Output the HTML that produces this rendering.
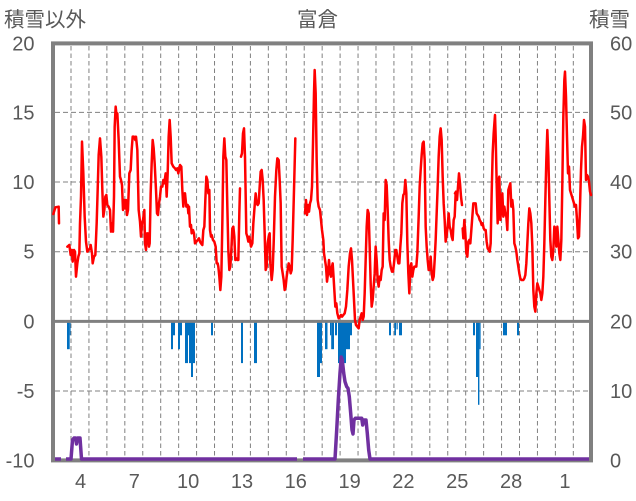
<!DOCTYPE html>
<html><head><meta charset="utf-8"><style>
html,body{margin:0;padding:0;background:#fff;}
svg{display:block;}
text{font-family:"Liberation Sans","Noto Sans CJK JP",sans-serif;fill:#595959;}
.cjk{font-family:"Noto Sans CJK JP","Liberation Sans",sans-serif;}
</style></head><body>
<svg width="636" height="501" viewBox="0 0 636 501" xmlns="http://www.w3.org/2000/svg">
<rect width="636" height="501" fill="#fff"/>
<!-- titles -->
<text class="cjk" x="4" y="26.5" font-size="20.5">積雪以外</text>
<text class="cjk" x="317.5" y="26.5" font-size="20.5" text-anchor="middle">富倉</text>
<text class="cjk" x="589" y="26.5" font-size="20.5">積雪</text>
<!-- horizontal dashed grid -->
<g stroke="#808080" stroke-width="1" stroke-dasharray="5,3" fill="none">
<line x1="55" y1="112.4" x2="589" y2="112.4"/>
<line x1="55" y1="182" x2="589" y2="182"/>
<line x1="55" y1="251.7" x2="589" y2="251.7"/>
<line x1="55" y1="391" x2="589" y2="391"/>
</g>
<!-- vertical dashed grid -->
<g stroke="#808080" stroke-width="1" stroke-dasharray="4.5,3" fill="none" id="vg">
<line x1="71" y1="46" x2="71" y2="458"/><line x1="88.94" y1="46" x2="88.94" y2="458"/><line x1="106.88" y1="46" x2="106.88" y2="458"/><line x1="124.82" y1="46" x2="124.82" y2="458"/><line x1="142.76" y1="46" x2="142.76" y2="458"/><line x1="160.7" y1="46" x2="160.7" y2="458"/><line x1="178.64" y1="46" x2="178.64" y2="458"/><line x1="196.58" y1="46" x2="196.58" y2="458"/><line x1="214.52" y1="46" x2="214.52" y2="458"/><line x1="232.46" y1="46" x2="232.46" y2="458"/><line x1="250.4" y1="46" x2="250.4" y2="458"/><line x1="268.34" y1="46" x2="268.34" y2="458"/><line x1="286.28" y1="46" x2="286.28" y2="458"/><line x1="304.22" y1="46" x2="304.22" y2="458"/><line x1="322.16" y1="46" x2="322.16" y2="458"/><line x1="340.1" y1="46" x2="340.1" y2="458"/><line x1="358.04" y1="46" x2="358.04" y2="458"/><line x1="375.98" y1="46" x2="375.98" y2="458"/><line x1="393.92" y1="46" x2="393.92" y2="458"/><line x1="411.86" y1="46" x2="411.86" y2="458"/><line x1="429.8" y1="46" x2="429.8" y2="458"/><line x1="447.74" y1="46" x2="447.74" y2="458"/><line x1="465.68" y1="46" x2="465.68" y2="458"/><line x1="483.62" y1="46" x2="483.62" y2="458"/><line x1="501.56" y1="46" x2="501.56" y2="458"/><line x1="519.5" y1="46" x2="519.5" y2="458"/><line x1="537.44" y1="46" x2="537.44" y2="458"/><line x1="555.38" y1="46" x2="555.38" y2="458"/><line x1="573.32" y1="46" x2="573.32" y2="458"/>
</g>
<!-- blue bars -->
<g fill="#0070C0">
<rect x="67" y="321.4" width="2.7" height="27.8"/><rect x="69.7" y="321.4" width="0.9" height="13.9"/>
<rect x="171" y="321.4" width="2" height="27.8"/><rect x="173" y="321.4" width="2" height="13.9"/>
<rect x="178" y="321.4" width="2" height="27.8"/><rect x="180" y="321.4" width="2" height="13.9"/>
<rect x="185" y="321.4" width="3" height="41.7"/><rect x="188" y="321.4" width="1" height="13.9"/><rect x="189" y="321.4" width="2" height="41.7"/><rect x="191" y="321.4" width="2" height="55.6"/><rect x="193" y="321.4" width="2" height="41.7"/>
<rect x="211" y="321.4" width="2" height="13.9"/>
<rect x="241" y="321.4" width="2" height="41.7"/>
<rect x="254" y="321.4" width="3" height="41.7"/>
<rect x="317" y="321.4" width="3" height="55.6"/><rect x="320" y="321.4" width="2" height="41.7"/>
<rect x="325" y="321.4" width="2.5" height="27.8"/>
<rect x="330" y="321.4" width="1.2" height="13.9"/><rect x="331.2" y="321.4" width="2.8" height="27.8"/>
<rect x="335" y="321.4" width="2" height="13.9"/>
<rect x="338" y="321.4" width="8" height="41.7"/><rect x="346" y="321.4" width="4" height="27.8"/><rect x="350" y="321.4" width="2" height="13.9"/>
<rect x="389" y="321.4" width="2" height="13.9"/>
<rect x="394.3" y="321.4" width="1.7" height="13.9"/><rect x="396.5" y="321.4" width="1.2" height="8"/>
<rect x="399" y="321.4" width="3" height="13.9"/>
<rect x="473" y="321.4" width="2" height="13.9"/>
<rect x="476" y="321.4" width="2" height="55.6"/><rect x="478" y="321.4" width="1.4" height="83.4"/><rect x="479.4" y="321.4" width="1.2" height="27.8"/>
<rect x="503" y="321.4" width="4" height="13.9"/>
<rect x="517" y="321.4" width="2" height="13.9"/>
</g>
<!-- plot border -->
<rect x="53" y="43.4" width="538" height="417" fill="none" stroke="#808080" stroke-width="4"/>
<!-- zero line -->
<line x1="53" y1="321.4" x2="591" y2="321.4" stroke="#808080" stroke-width="3"/>
<!-- red line -->
<g fill="none" stroke="#FF0000" stroke-width="7.5" stroke-linejoin="round" stroke-linecap="round">
<g transform="translate(50,90) scale(0.33333)">
<polyline points="10,372 16,352 26,350 27,400"/>
<polyline points="52,470 58,465 62,495 66,480 68,515 72,480 75,485 78,560 82,520 85,500 88,490 90,400 93,320 96,155 100,250 104,380 108,455 112,485 116,480 120,475 122,465 126,490 128,520 132,500 136,495 140,400 143,300 146,195 150,145 154,200 157,300 160,380 163,360 166,320 169,315 172,345 176,350 180,360 183,425 186,400 189,425 192,320 194,110 197,50 200,80 202,70 206,150 210,260 213,270 216,285 219,360 222,330 225,355 228,330 231,375 234,360 238,250 242,240 245,180 248,140 252,140 256,150 258,140 262,180 264,270 266,360 270,395 273,440 276,400 279,390 283,360 285,460 288,480 291,430 294,430 297,470 299,460 302,310 305,220 308,150 311,175 314,220 318,300 321,370 324,375 327,340 330,320 333,290 337,290 340,270 343,280 347,250 350,320 353,250 356,140 359,90 362,140 365,220 370,230 375,235 378,240 382,235 385,250 390,225 394,230 397,300 400,350 404,310"/>
</g>
<g transform="translate(185,90) scale(0.33333)">
<polyline points="0,310 4,350 8,345 10,370 12,350 15,410 18,405 20,430 24,420 27,430 30,460 34,455 38,450 42,445 45,455 48,460 52,465 55,420 58,410 61,330 64,260 67,270 70,310 73,300 75,420 78,440 80,435 84,450 88,455 92,470 95,520 98,520 100,530 103,560 106,600 109,560 112,400 115,200 118,145 121,200 124,210 127,350 130,480 133,540 136,530 139,480 142,415 145,410 148,440 151,510 154,505 157,510 160,510 163,370 165,295"/>
<polyline points="168,200 171,190 174,130 177,115 180,200 184,430 187,440 190,455 193,440 198,470 202,460 205,400 208,360 212,310 215,340 218,345 221,340 224,290 227,245 230,240 233,270 236,330 239,430 242,540 245,530 248,460 251,440 254,430 256,520 260,570 263,540 266,460 270,320 274,240 277,205 281,210 284,270 287,340 290,530 293,550 296,570 299,600 302,590 305,560 308,540 311,520 314,530 317,550 320,540 323,450 327,300 331,145"/>
</g>
<g transform="translate(300,60) scale(0.33333)">
<polyline points="15,460 18,420 21,465 24,435 27,455 30,430 33,420 36,380 39,250 42,100 44,30 47,100 50,300 53,420 56,440 60,450 63,480 66,510 70,540 72,580 75,600 78,620 81,665 84,640 87,600 90,640 93,650 96,620 98,610 100,640 103,690 106,740 109,730 112,760 116,775 120,770 123,765 126,770 130,765 134,760 138,740 142,690 146,620 150,580 153,565 156,600 159,660 162,720 165,780 168,795 172,800 176,805 179,780 182,770 185,760 188,780 191,770 194,700 197,600 200,500 203,450 206,460 209,560 212,670 215,740 218,720 221,680 224,640 227,560 230,600 233,660 236,680 239,650 242,660 245,630 248,620 251,460 254,480 257,360 260,375 263,450 266,540 269,600 272,620 276,635 279,635 282,610 286,570 289,570 292,590 295,610 298,610 301,560 304,520 307,430 310,405 313,400 316,360 319,400 322,550 325,640 328,700 331,620 334,610 337,650 340,630 343,620 346,620 349,620 352,580 356,470 359,380 362,330 365,285 368,250 371,245 374,300 377,500 380,560 383,600 386,630 389,630 392,590 395,640 398,660 401,650 404,600 407,540 410,460 413,380 416,290 419,230 422,205 425,240 428,350 431,430 434,480 437,545 440,525 443,500 446,460 449,500 452,510 455,530 458,540 461,480 464,470 467,400"/>
</g>
<g transform="translate(455,60) scale(0.33333)">
<polyline points="0,400 3,395 6,420 9,380 12,340 15,370 18,410 21,435"/>
<polyline points="23,505 25,535 28,480 31,520 34,580 37,590 40,545 43,540 46,550 49,510 52,470 55,430 58,430 62,430 65,460 68,465 71,470 74,480 77,485 80,495 83,490 86,505 89,510 92,510 95,545 98,565 101,570 104,575 107,550 110,400 113,280 116,220 120,165 122,230 125,370 128,490 131,360 133,350 136,480 139,440 142,400 145,470 148,440 151,460 154,470 157,510 160,390 163,380 166,370 169,440 172,420 175,450 178,550 181,560 184,575 187,600 190,620 193,640 196,655 199,660 202,660 205,660 208,655 211,645 214,610 217,550 220,490 223,445 226,460 229,490 232,560 235,690 238,740 241,755 244,700 247,670 250,680 253,690 256,700 259,720 262,700 265,650 268,550 271,420 274,300 277,210 280,290 283,420 286,540 289,590 292,600 295,570 298,500 301,510 304,560 307,500 310,540 313,580 316,600 319,540 322,370 325,170 328,60 330,35 333,110 336,230 339,340 342,320 345,390 348,400 351,410 354,420 357,430 360,440 363,435 366,480 369,535 372,530 375,440 378,330 381,260 384,230 387,180 390,200 393,360 396,345 399,350 402,365 405,395 408,405"/>
</g>
</g>
<!-- purple line -->
<g fill="none" stroke="#7030A0" stroke-width="3.5" stroke-linejoin="round">
<polyline points="55,459 61,459"/>
<polyline points="66,459 71,459 72.5,440 74,438 75.5,438 76.5,444 77.5,438 80,438 81.5,459 297,459"/>
<polyline points="303,459 335,459 336.7,430 338.3,400 340,373 341.3,357 342.3,360 343.7,373 345,381.7 346.7,386.7 348,388.3 349.3,396.7 350.7,413.3 352,430 353,434 354,420 355.3,418.3 361.7,418.3 362.7,425 363.7,420 366,420 367.3,433.3 368.7,450 370,459 589,459"/>
</g>
<!-- left ticks -->
<g font-size="20" text-anchor="end">
<text x="34.5" y="50.5">20</text>
<text x="34.5" y="119.5">15</text>
<text x="34.5" y="189">10</text>
<text x="34.5" y="258.7">5</text>
<text x="34.5" y="328.4">0</text>
<text x="34.5" y="398">-5</text>
<text x="34.5" y="467.4">-10</text>
</g>
<!-- right ticks -->
<g font-size="20">
<text x="610" y="50.5">60</text>
<text x="610" y="119.5">50</text>
<text x="610" y="189">40</text>
<text x="610" y="258.7">30</text>
<text x="610" y="328.4">20</text>
<text x="610" y="398">10</text>
<text x="610" y="467.4">0</text>
</g>
<!-- x labels -->
<g font-size="20" text-anchor="middle">
<text x="80.5" y="488">4</text>
<text x="134.3" y="488">7</text>
<text x="188.1" y="488">10</text>
<text x="242" y="488">13</text>
<text x="295.8" y="488">16</text>
<text x="349.6" y="488">19</text>
<text x="403.4" y="488">22</text>
<text x="457.3" y="488">25</text>
<text x="511.1" y="488">28</text>
<text x="564.9" y="488">1</text>
</g>
</svg>
</body></html>
